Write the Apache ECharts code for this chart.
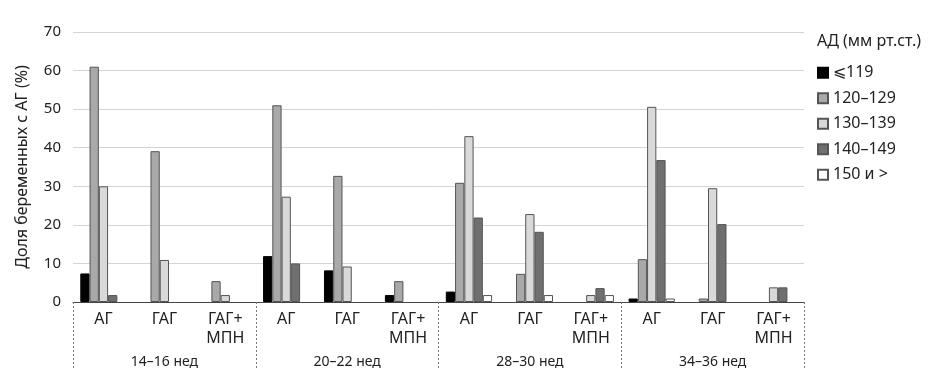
<!DOCTYPE html>
<html><head><meta charset="utf-8">
<script src="https://cdn.jsdelivr.net/npm/echarts@6/dist/echarts.min.js"></script>
<style>html,body{margin:0;padding:0;background:#fff}#c{width:947px;height:386px}</style>
</head><body><div id="c"></div>
<script>
const groups = ['АГ','ГАГ','ГАГ+\nМПН','АГ','ГАГ','ГАГ+\nМПН','АГ','ГАГ','ГАГ+\nМПН','АГ','ГАГ','ГАГ+\nМПН'];
const periods = ['14–16 нед','20–22 нед','28–30 нед','34–36 нед'];
const seriesNames = ['⩽119','120–129','130–139','140–149','150 и >'];
const s119 =    [7.4, 0, 0,   11.9, 8.2, 1.8,  2.7, 0, 0,     0.9, 0, 0];
const s120_129 = [61, 39.1, 5.4, 51, 32.7, 5.4, 30.9, 7.3, 0, 11.1, 0.9, 0];
const s130_139 = [30, 10.9, 1.8, 27.3, 9.2, 0, 43, 22.8, 1.8, 50.6, 29.5, 3.8];
const s140_149 = [1.8, 0, 0, 10, 0, 0, 21.9, 18.2, 3.6, 36.8, 20.2, 3.8];
const s150 =    [0, 0, 0, 0, 0, 0, 1.8, 1.8, 1.8, 0.9, 0, 0];
const yTicks = {min: 0, max: 70, interval: 10};
const colors = ['#000000','#a9a9a9','#d9d9d9','#6f6f6f','#ffffff'];
const values = [s119, s120_129, s130_139, s140_149, s150];

const font = 'Noto Sans';
const chart = echarts.init(document.getElementById('c'));
chart.setOption({
  animation: false,
  textStyle: {fontFamily: font},
  title: {text: 'АД (мм рт.ст.)', left: 812, top: 28, textStyle: {fontFamily: font, fontSize: 16, fontWeight: 'normal', color: '#222'}},
  legend: {
    orient: 'vertical', left: 812, top: 58, itemWidth: 10, itemHeight: 10, itemGap: 6,
    data: seriesNames, icon: 'rect',
    textStyle: {fontFamily: font, fontSize: 16, color: '#222', lineHeight: 19.5}
  },
  grid: {left: 73, right: 143, top: 32, bottom: 84},
  xAxis: [
    {type: 'category', data: groups, position: 'bottom',
     axisLine: {lineStyle: {color: '#444', width: 1}},
     axisTick: {show: false},
     axisLabel: {interval: 0, color: '#222', fontSize: 16, margin: 8, lineHeight: 19}},
    {type: 'category', data: periods, position: 'bottom',
     axisLine: {show: false},
     axisTick: {show: true, length: 68, interval: 0, lineStyle: {color: '#777', type: [2,2]}},
     axisLabel: {interval: 0, color: '#222', fontSize: 14, margin: 53}}
  ],
  yAxis: {type: 'value', min: yTicks.min, max: yTicks.max, interval: yTicks.interval,
    name: 'Доля беременных с АГ (%)', nameLocation: 'middle', nameGap: 43, nameRotate: 90,
    nameTextStyle: {fontSize: 16, color: '#222'},
    axisLine: {show: false}, axisTick: {show: false},
    axisLabel: {color: '#222', fontSize: 15, margin: 12},
    splitLine: {lineStyle: {color: '#d4d4d4'}}},
  series: seriesNames.map((n, i) => ({
    name: n, type: 'bar', xAxisIndex: 0, data: values[i].map(v => v === 0 ? '-' : v),
    barGap: '0%', barCategoryGap: '24%',
    itemStyle: {color: colors[i], borderColor: i === 0 ? '#000' : '#555', borderWidth: 1}
  }))
});
</script></body></html>
